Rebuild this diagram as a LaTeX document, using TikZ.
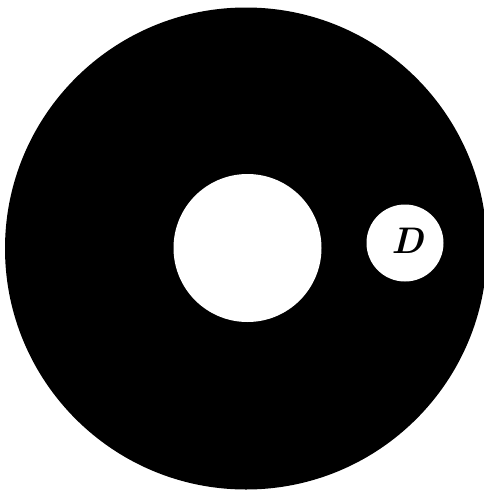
\documentclass[tikz,border=0pt]{standalone}
\begin{document}
\begin{tikzpicture}[x=1pt,y=-1pt,
  disk/.style={circle,fill=black,draw=none,inner sep=0pt},
  hole/.style={circle,fill=white,draw=none,inner sep=0pt}]
\useasboundingbox[fill=white] (0,0) rectangle (484,491);
\begin{scope}
\clip (0,0) rectangle (484,491);
\node[disk,minimum size=482pt] (outer) at (246,248.5) {};
\end{scope}
\node[hole,minimum size=148pt] (inner) at (247.5,248) {};
\node[hole,minimum size=77pt] (D) at (405,243) {};
\node[inner sep=0pt,scale=3.7,font=\bfseries\itshape] (Dlabel) at (408,241) {D};
\end{tikzpicture}
\end{document}
